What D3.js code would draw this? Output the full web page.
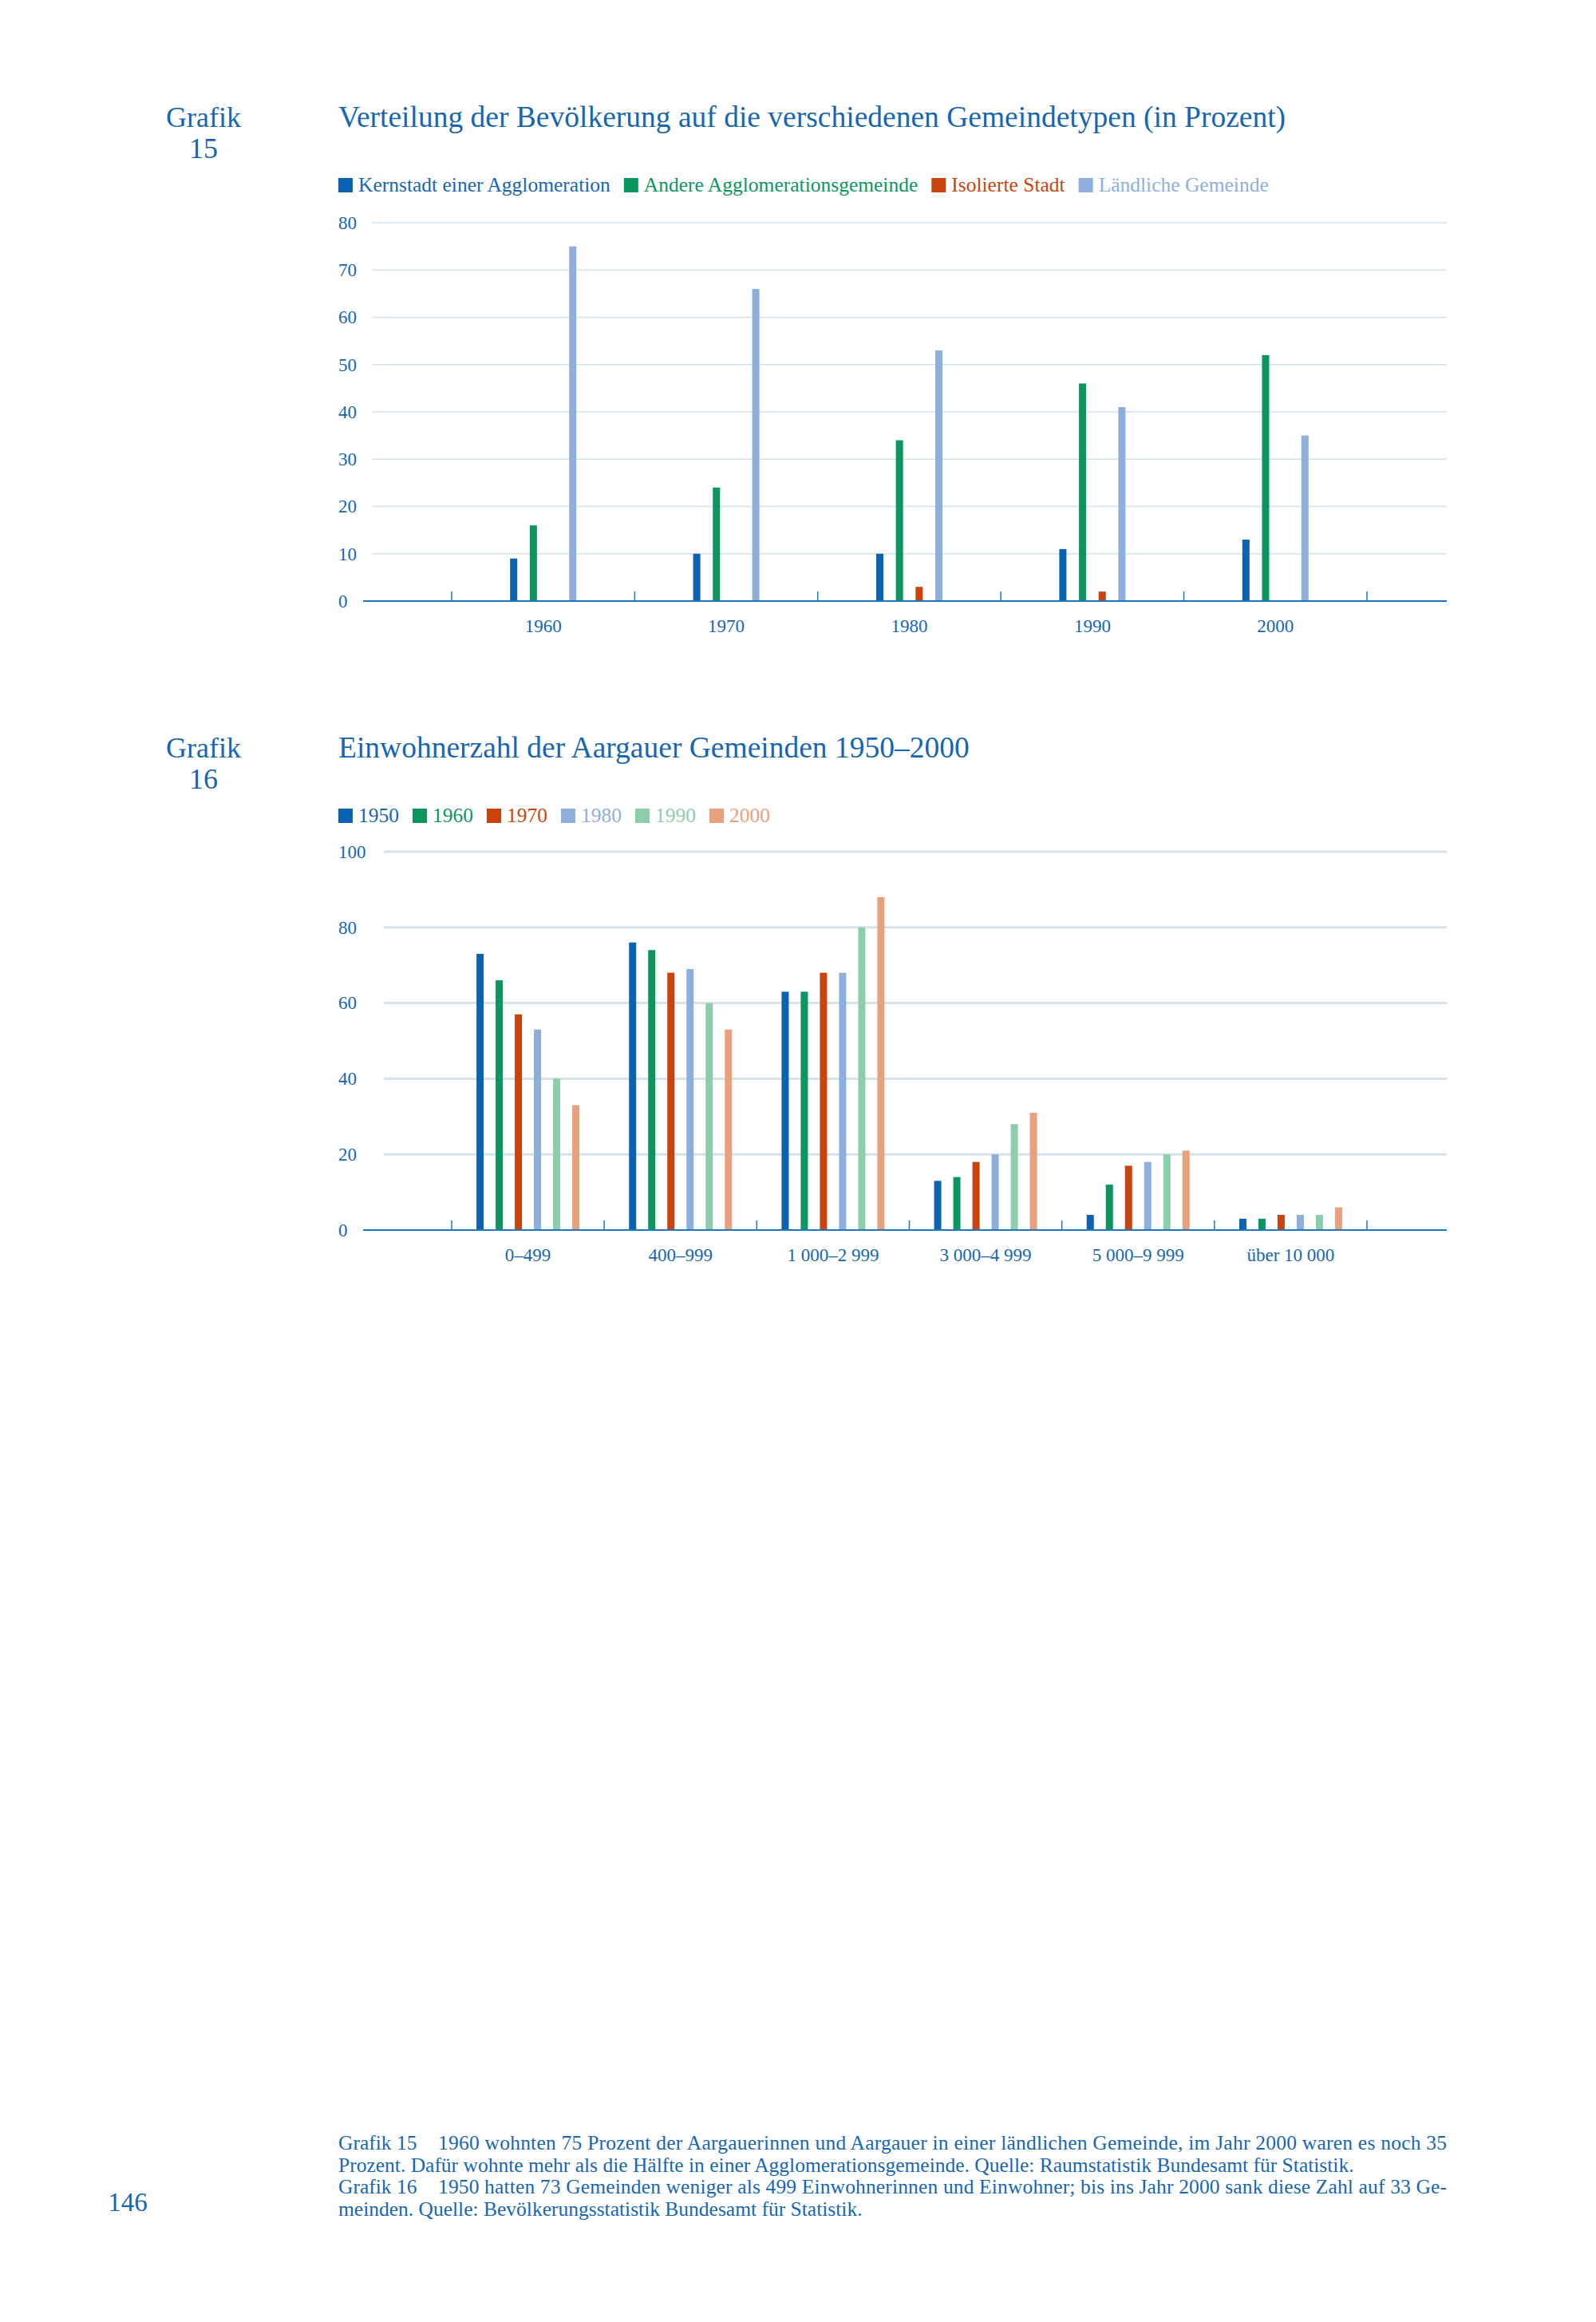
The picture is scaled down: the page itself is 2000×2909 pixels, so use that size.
<!DOCTYPE html>
<html><head><meta charset="utf-8">
<script src="https://cdn.jsdelivr.net/npm/d3@7"></script>
<style>body{margin:0;background:#fff}svg{font-family:"Liberation Serif",serif}</style>
</head><body><svg id="page" width="2000" height="2909"></svg>
<script>
// Grafik 15
var jahre15 = ["1960","1970","1980","1990","2000"];
var serien15 = ["Kernstadt einer Agglomeration","Andere Agglomerationsgemeinde","Isolierte Stadt","Ländliche Gemeinde"];
var kernstadt = [9,10,10,11,13];
var andere = [16,24,34,46,52];
var isoliert = [0,0,3,2,0];
var laendlich = [75,66,53,41,35];
var ticks15 = [0,10,20,30,40,50,60,70,80];
// Grafik 16
var klassen16 = ["0–499","400–999","1 000–2 999","3 000–4 999","5 000–9 999","über 10 000"];
var serien16 = ["1950","1960","1970","1980","1990","2000"];
var w1950 = [73,76,63,13,4,3];
var w1960 = [66,74,63,14,12,3];
var w1970 = [57,68,68,18,17,4];
var w1980 = [53,69,68,20,18,4];
var w1990 = [40,60,80,28,20,4];
var w2000 = [33,53,88,31,21,6];
var ticks16 = [0,20,40,60,80,100];

var farben15 = ["#0a62b0","#0b9660","#c8440c","#8eaedb"];
var farben16 = ["#0a62b0","#0b9660","#c8440c","#8eaedb","#8ecdab","#e9a07c"];
var TEXT = "#1766b1";

var svg = d3.select("#page");

function chart(cfg){
  var g = svg.append("g");
  g.append("text").attr("x",255).attr("y",cfg.top+24).attr("text-anchor","middle")
    .attr("font-size",36).attr("fill",TEXT).text("Grafik");
  g.append("text").attr("x",255).attr("y",cfg.top+63).attr("text-anchor","middle")
    .attr("font-size",36).attr("fill",TEXT).text(cfg.nr);
  g.append("text").attr("x",424).attr("y",cfg.top+24).attr("font-size",37.5)
    .attr("fill",TEXT).text(cfg.title);
  // legend
  var lx = 424;
  cfg.series.forEach(function(s,i){
    g.append("rect").attr("x",lx).attr("y",cfg.top+88).attr("width",18).attr("height",18).attr("fill",cfg.colors[i]);
    var t = g.append("text").attr("x",lx+25).attr("y",cfg.top+105).attr("font-size",25.5)
      .attr("fill",i==0?TEXT:cfg.colors[i]).text(s);
    lx += 25 + t.node().getComputedTextLength() + 17;
  });
  var y = d3.scaleLinear().domain([0,cfg.max]).range([cfg.y0,cfg.y1]);
  var x = d3.scaleBand().domain(cfg.cats).range([566,1713]);
  var xi = d3.scalePoint().domain(cfg.series).range([-cfg.spread,cfg.spread]);
  // grid
  g.selectAll(".grid").data(cfg.ticks.filter(function(d){return d>0;})).enter().append("line")
    .attr("x1",cfg.gx).attr("x2",1813).attr("y1",function(d){return y(d);}).attr("y2",function(d){return y(d);})
    .attr("stroke","#d5e2ea").attr("stroke-width",cfg.max==100?3:1.5);
  var ya = g.append("g").attr("transform","translate("+(cfg.gx-12)+",0)")
    .call(d3.axisLeft(y).tickValues(cfg.ticks).tickSize(0));
  ya.select(".domain").remove();
  ya.selectAll("text").attr("font-size",23).attr("fill",TEXT).attr("font-family","Liberation Serif").attr("text-anchor","start").attr("x",-(cfg.gx-12-424));
  // bars
  cfg.values.forEach(function(vals,si){
    g.selectAll(null).data(vals).enter().append("rect")
      .attr("x",function(d,i){return x(cfg.cats[i])+x.bandwidth()/2+xi(cfg.series[si])-4.5;})
      .attr("width",9)
      .attr("y",function(d){return y(d);})
      .attr("height",function(d){return cfg.y0-y(d);})
      .attr("fill",cfg.colors[si]);
  });
  // x axis
  g.append("line").attr("x1",455).attr("x2",1813).attr("y1",cfg.y0).attr("y2",cfg.y0).attr("stroke","#1f78c0").attr("stroke-width",2);
  var bounds = cfg.cats.map(function(c){return x(c);}).concat([1713]);
  g.selectAll(".bt").data(bounds).enter().append("line")
    .attr("x1",function(d){return d;}).attr("x2",function(d){return d;})
    .attr("y1",cfg.y0-12).attr("y2",cfg.y0).attr("stroke","#1f78c0").attr("stroke-width",1.5);
  var xa = g.append("g").attr("transform","translate(0,"+(cfg.y0+36)+")")
    .call(d3.axisBottom(x).tickSize(0));
  xa.select(".domain").remove();
  xa.selectAll("text").attr("font-size",23).attr("fill",TEXT).attr("font-family","Liberation Serif").attr("dy",0);
}

chart({nr:"15",title:"Verteilung der Bevölkerung auf die verschiedenen Gemeindetypen (in Prozent)",
  top:135,series:serien15,colors:farben15,cats:jahre15,values:[kernstadt,andere,isoliert,laendlich],
  max:80,ticks:ticks15,y0:753,y1:279,gx:466,spread:37});
chart({nr:"16",title:"Einwohnerzahl der Aargauer Gemeinden 1950–2000",
  top:925,series:serien16,colors:farben16,cats:klassen16,values:[w1950,w1960,w1970,w1980,w1990,w2000],
  max:100,ticks:ticks16,y0:1541,y1:1067,gx:481,spread:60});

// footnotes
var fn = [
  ["Grafik 15","1960 wohnten 75 Prozent der Aargauerinnen und Aargauer in einer ländlichen Gemeinde, im Jahr 2000 waren es noch 35",true],
  ["","Prozent. Dafür wohnte mehr als die Hälfte in einer Agglomerationsgemeinde. Quelle: Raumstatistik Bundesamt für Statistik.",false],
  ["Grafik 16","1950 hatten 73 Gemeinden weniger als 499 Einwohnerinnen und Einwohner; bis ins Jahr 2000 sank diese Zahl auf 33 Ge-",true],
  ["","meinden. Quelle: Bevölkerungsstatistik Bundesamt für Statistik.",false]
];
fn.forEach(function(l,i){
  var t = svg.append("text").attr("x",424).attr("y",2693+i*27.5).attr("font-size",25.5).attr("fill",TEXT);
  if(l[0]){
    t.append("tspan").text(l[0]);
    var s = t.append("tspan").attr("x",549).text(l[1]);
    if(l[2]) s.attr("textLength",1813-549).attr("lengthAdjust","spacing");
  } else t.text(l[1]);
});
svg.append("text").attr("x",160).attr("y",2770).attr("font-size",33).attr("fill",TEXT).attr("text-anchor","middle").text("146");
</script></body></html>
